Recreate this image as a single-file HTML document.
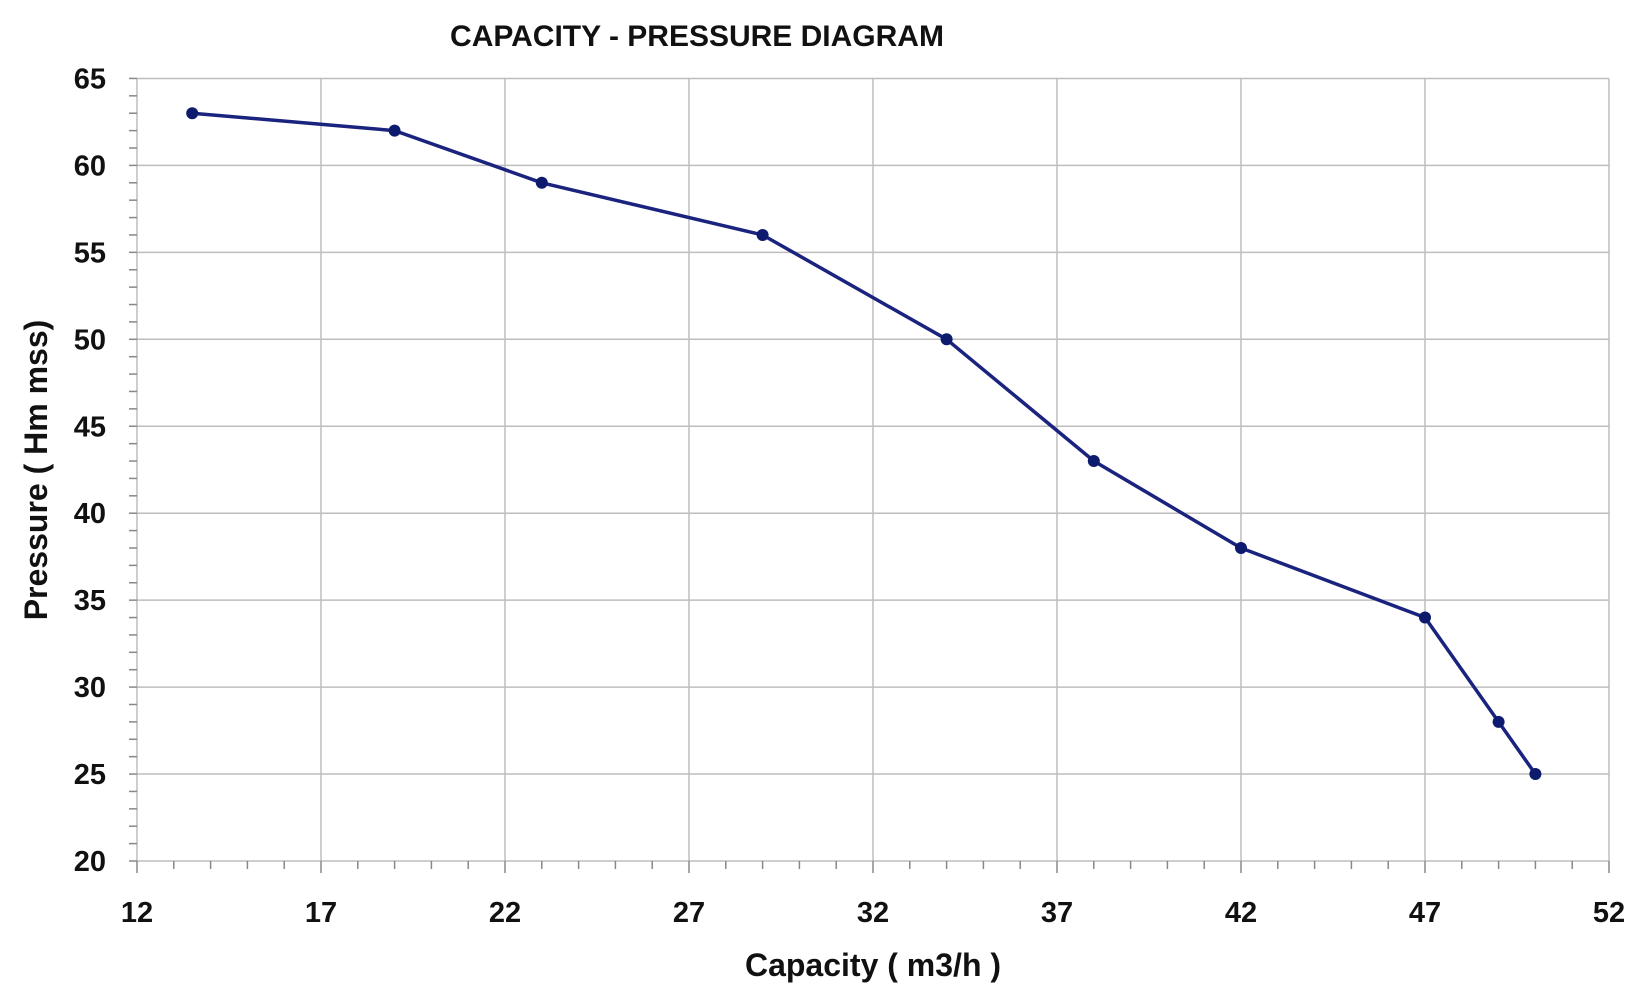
<!DOCTYPE html>
<html><head><meta charset="utf-8"><style>
html,body{margin:0;padding:0;background:#fff;}
svg{display:block;}
text{font-family:"Liberation Sans Narrow","Liberation Sans",sans-serif;font-weight:bold;fill:#111;}
</style></head><body>
<svg width="1640" height="1000" viewBox="0 0 1640 1000" xmlns="http://www.w3.org/2000/svg">
<text x="697" y="46" font-size="30" text-anchor="middle">CAPACITY - PRESSURE DIAGRAM</text>
<g id="grid" stroke="#bdbdbd" stroke-width="1.5"></g>
<g id="ticks" stroke="#888" stroke-width="1.5"></g>
<g id="labels" font-size="29"></g>
<text x="873" y="976" font-size="32" text-anchor="middle">Capacity ( m3/h )</text>
<text transform="translate(47,470) rotate(-90)" font-size="32" text-anchor="middle">Pressure ( Hm mss)</text>
<polyline id="line" fill="none" stroke="#1a237e" stroke-width="3.5" stroke-linejoin="round"></polyline>
<g id="pts" fill="#0d1a6e"></g>
</svg>
<script>
var X0=137,XS=36.8,Y0=861,YS=17.39;
function fx(v){return X0+(v-12)*XS;} function fy(v){return Y0-(v-20)*YS;}
var ns="http://www.w3.org/2000/svg";
function el(p,t,a,txt){var e=document.createElementNS(ns,t);for(var k in a)e.setAttribute(k,a[k]);if(txt!==undefined)e.textContent=txt;document.getElementById(p).appendChild(e);}
for(var v=20;v<=65;v+=5){el('grid','line',{x1:fx(12),x2:fx(52),y1:fy(v),y2:fy(v)});el('labels','text',{x:106,y:fy(v)+10,'text-anchor':'end'},v);}
for(var v=12;v<=52;v+=5){el('grid','line',{x1:fx(v),x2:fx(v),y1:fy(20),y2:fy(65)});el('labels','text',{x:fx(v),y:922,'text-anchor':'middle'},v);}
for(var v=20;v<=65;v++){el('ticks','line',{x1:fx(12)-8,x2:fx(12),y1:fy(v),y2:fy(v)});}
for(var v=12;v<=52;v++){el('ticks','line',{x1:fx(v),x2:fx(v),y1:fy(20),y2:fy(20)+(v%5==2?12:8)});}
var d=[[13.5,63],[19,62],[23,59],[29,56],[34,50],[38,43],[42,38],[47,34],[49,28],[50,25]];
document.getElementById('line').setAttribute('points',d.map(function(p){return fx(p[0])+','+fy(p[1]);}).join(' '));
d.forEach(function(p){el('pts','circle',{cx:fx(p[0]),cy:fy(p[1]),r:6});});
</script>
</body></html>
